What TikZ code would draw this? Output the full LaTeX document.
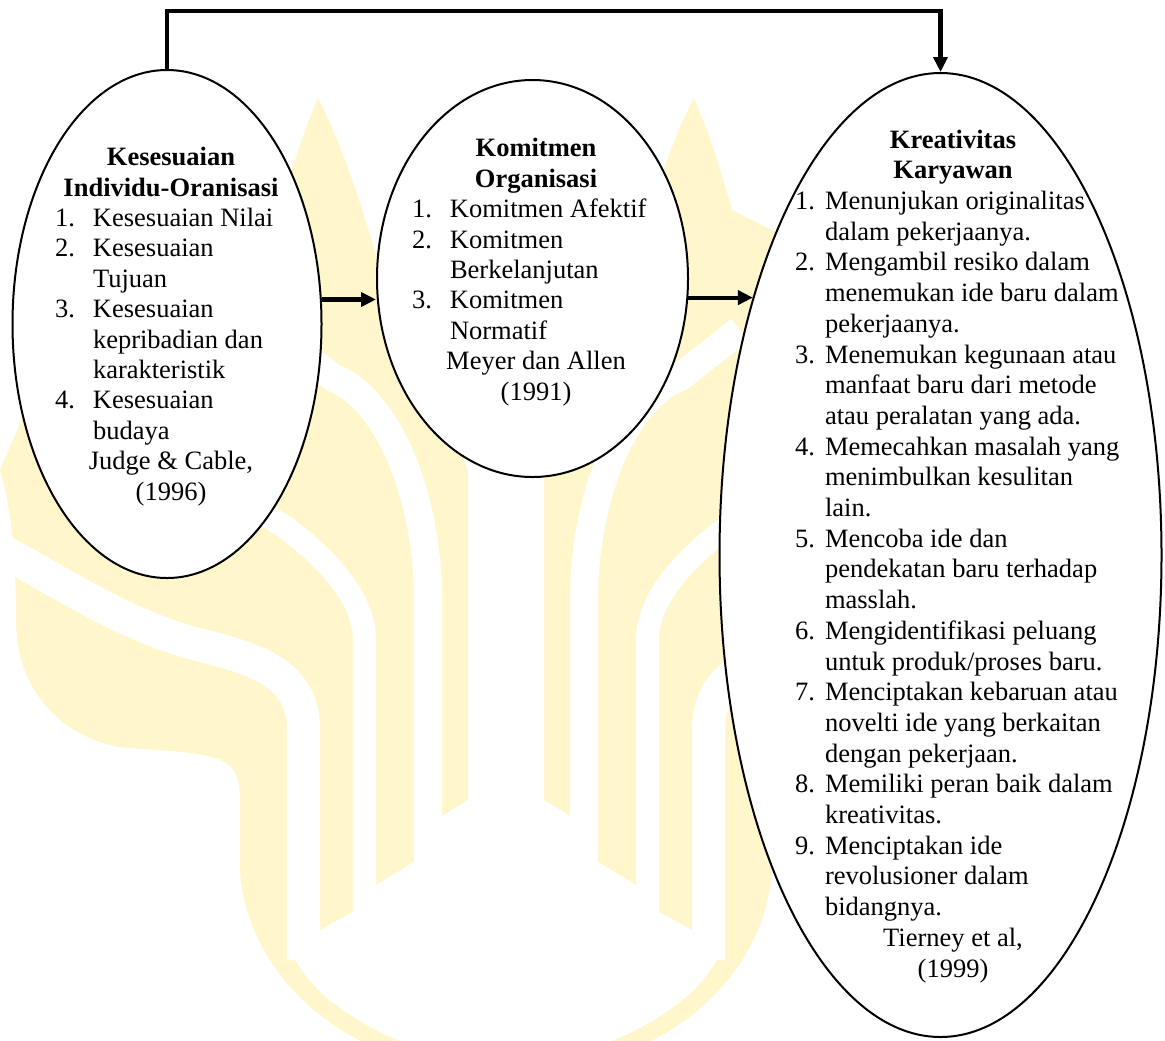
\documentclass[tikz,border=0pt]{standalone}
\usepackage{fontspec}
\setmainfont{Liberation Serif}
\usepackage{xcolor}
\usetikzlibrary{positioning, shapes.geometric, arrows, arrows.meta}

\definecolor{logoyellow}{RGB}{255,246,204}

% one list line: number column, then text
\newcommand{\li}[2]{\makebox[\listw][l]{\makebox[\numw][l]{#1}#2}}

% left half of the background logo (mirrored for the right half)
\newcommand{\logohalf}{%
  \fill[logoyellow] (318,98) .. controls (300,140) and (290,175) .. (280,210)
    -- (100,300) -- (30,400) -- (0,470)
    .. controls (12,510) and (16,560) .. (16,620)
    .. controls (16,690) and (60,735) .. (118,747)
    .. controls (170,752) and (215,750) .. (232,768)
    .. controls (240,780) and (240,790) .. (240,810)
    -- (240,870) .. controls (245,960) and (320,1040) .. (420,1062)
    -- (506,1075) -- (506,470) -- (468,470) -- (430,380) -- (378,262)
    .. controls (360,200) and (340,140) .. (318,98) -- cycle;
  \draw[white, line width=16.5pt] (0,550) .. controls (50,575) and (120,625) .. (200,645)
    .. controls (260,660) and (303.5,675) .. (303.5,730) -- (303.5,960);
  \draw[white, line width=11.5pt] (364.5,960) -- (364.5,640)
    .. controls (364.5,600) and (330,560) .. (282,525) -- (240,500);
  \draw[white, line width=14pt] (428,900) -- (428,600)
    .. controls (428,500) and (390,400) .. (332,377) -- (272,330);
  \fill[white] (468,430) rectangle (506,820);
  \fill[white] (287,935) -- (320,930) -- (353,912) -- (376,885) -- (414,862)
    -- (442,816) -- (468,800) -- (506,792) -- (506,1080) -- (440,1055)
    .. controls (370,1035) and (295,990) .. (287,935) -- cycle;
}

\tikzset{
  bubble/.style={ellipse, draw, line width=1pt, fill=white, inner sep=0pt},
  bubbletext/.style={align=center, inner sep=0pt, anchor=base,
    font=\fontsize{13.25pt}{15.2pt}\selectfont},
  link/.style={line width=2.1pt, -{Triangle[length=7.5pt,width=7pt]}}
}

\begin{document}
\begin{tikzpicture}[x=0.5pt, y=-0.5pt]
  \useasboundingbox (0,0) rectangle (1165,1040);

  % logo in the background
  \logohalf
  \begin{scope}[shift={(1012,0)}, xscale=-1]
    \logohalf
  \end{scope}

  % the three variables
  \node[bubble, minimum width=154.5pt, minimum height=254pt] (kio) at (167,324) {};
  \node[bubble, minimum width=155.5pt, minimum height=198.5pt] (ko) at (532.5,278.5) {};
  \node[bubble, minimum width=221pt, minimum height=482pt] (kk) at (940.5,555) {};

  % Kesesuaian Individu-Organisasi (placed by its last line)
  \def\listw{116pt}\def\numw{19pt}
  \node[bubbletext] (kio-txt) at (171,500) {\textbf{Kesesuaian}\\
    \textbf{Individu-Oranisasi}\\
    \li{1.}{Kesesuaian Nilai}\\
    \li{2.}{Kesesuaian}\\
    \li{}{Tujuan}\\
    \li{3.}{Kesesuaian}\\
    \li{}{kepribadian dan}\\
    \li{}{karakteristik}\\
    \li{4.}{Kesesuaian}\\
    \li{}{budaya}\\
    Judge \& Cable,\\
    (1996)};

  % Komitmen Organisasi
  \def\listw{124pt}\def\numw{19pt}
  \node[bubbletext] (ko-txt) at (536,400) {\textbf{Komitmen}\\
    \textbf{Organisasi}\\
    \li{1.}{Komitmen Afektif}\\
    \li{2.}{Komitmen}\\
    \li{}{Berkelanjutan}\\
    \li{3.}{Komitmen}\\
    \li{}{Normatif}\\
    Meyer dan Allen\\
    (1991)};

  % Kreativitas Karyawan
  \def\listw{158pt}\def\numw{15pt}
  \node[bubbletext, font=\fontsize{13.25pt}{15.35pt}\selectfont] (kk-txt) at (953,977) {\textbf{Kreativitas}\\
    \textbf{Karyawan}\\
    \li{1.}{Menunjukan originalitas}\\
    \li{}{dalam pekerjaanya.}\\
    \li{2.}{Mengambil resiko dalam}\\
    \li{}{menemukan ide baru dalam}\\
    \li{}{pekerjaanya.}\\
    \li{3.}{Menemukan kegunaan atau}\\
    \li{}{manfaat baru dari metode}\\
    \li{}{atau peralatan yang ada.}\\
    \li{4.}{Memecahkan masalah yang}\\
    \li{}{menimbulkan kesulitan}\\
    \li{}{lain.}\\
    \li{5.}{Mencoba ide dan}\\
    \li{}{pendekatan baru terhadap}\\
    \li{}{masslah.}\\
    \li{6.}{Mengidentifikasi peluang}\\
    \li{}{untuk produk/proses baru.}\\
    \li{7.}{Menciptakan kebaruan atau}\\
    \li{}{novelti ide yang berkaitan}\\
    \li{}{dengan pekerjaan.}\\
    \li{8.}{Memiliki peran baik dalam}\\
    \li{}{kreativitas.}\\
    \li{9.}{Menciptakan ide}\\
    \li{}{revolusioner dalam}\\
    \li{}{bidangnya.}\\
    Tierney et al,\\
    (1999)};

  % connectors
  \coordinate (topline) at (550,11);
  \draw[link] (kio.north) -- (kio.north |- topline) -| (kk.north);
  \draw[link] (kio.9.2) -- (kio.9.2 -| ko.west);
  \draw[link] (ko.-7.5) -- (ko.-7.5 -| kk.126.2);

\end{tikzpicture}
\end{document}
